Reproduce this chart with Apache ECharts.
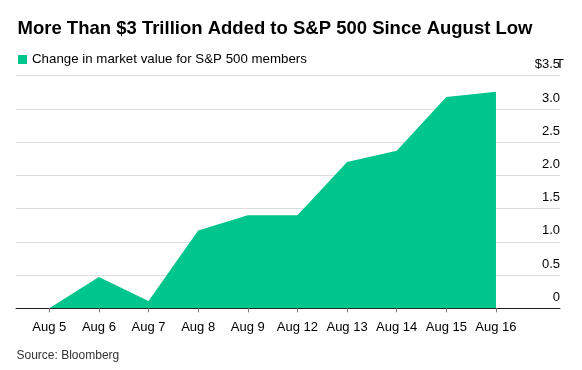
<!DOCTYPE html>
<html>
<head>
<meta charset="utf-8">
<script src="https://cdn.jsdelivr.net/npm/echarts@6/dist/echarts.min.js"></script>
<style>
html,body{margin:0;padding:0;background:#fff;}
#chart{width:582px;height:370px;}
</style>
</head>
<body>
<div id="chart"></div>
<script>
var titleText = 'More Than $3 Trillion Added to S&P 500 Since August Low';
var seriesName = 'Change in market value for S&P 500 members';
var sourceText = 'Source: Bloomberg';
var categories = ['Aug 5','Aug 6','Aug 7','Aug 8','Aug 9','Aug 12','Aug 13','Aug 14','Aug 15','Aug 16'];
var values = [0, 0.47, 0.11, 1.17, 1.40, 1.40, 2.20, 2.37, 3.18, 3.26];
var yTicks = [0, 0.5, 1.0, 1.5, 2.0, 2.5, 3.0, 3.5];

var green = '#00c58c';
var font = 'Liberation Sans, Arial, sans-serif';

var points = values.map(function (v, i) { return [i, v]; });
var idx = categories.map(function (c, i) { return i; });

var chart = echarts.init(document.getElementById('chart'), null, {renderer: 'canvas'});
chart.setOption({
  animation: false,
  backgroundColor: '#fff',
  textStyle: {fontFamily: font},
  title: [{
    text: titleText,
    left: 12.5,
    top: 14,
    textStyle: {fontFamily: font, fontSize: 18.5, fontWeight: 'bold', color: '#000'}
  }, {
    text: sourceText,
    left: 11.5,
    top: 345,
    textStyle: {fontFamily: font, fontSize: 12, fontWeight: 'normal', color: '#333'}
  }],
  legend: {
    left: 13,
    top: 48,
    icon: 'rect',
    itemWidth: 9,
    itemHeight: 9,
    data: [seriesName],
    textStyle: {fontFamily: font, fontSize: 13.3, color: '#000'}
  },
  grid: {left: 16, right: 22, top: 75.7, bottom: 61.7, outerBoundsMode: 'none'},
  xAxis: {
    type: 'value',
    min: -0.67,
    max: 10.29,
    splitLine: {show: false},
    axisLine: {show: true, lineStyle: {color: '#222', width: 1}},
    axisTick: {show: true, customValues: idx, length: 4, lineStyle: {color: '#777'}},
    axisLabel: {
      customValues: idx,
      margin: 13,
      fontFamily: font,
      fontSize: 13,
      color: '#000',
      formatter: function (v) { return categories[Math.round(v)]; }
    }
  },
  yAxis: {
    type: 'value',
    position: 'right',
    min: 0,
    max: 3.5,
    interval: 0.5,
    axisLine: {show: false},
    axisTick: {show: false},
    splitLine: {show: true, lineStyle: {color: '#dcdcdc', width: 1}},
    axisLabel: {
      inside: true,
      margin: 0,
      align: 'right',
      verticalAlign: 'bottom',
      lineHeight: 14,
      padding: [0, 0, 4, 0],
      fontFamily: font,
      fontSize: 13,
      color: '#000',
      formatter: function (v) {
        if (v === 0) return '0';
        if (Math.abs(v - 3.5) < 1e-9) return '{v|$3.5}{u|T}';
        return v.toFixed(1);
      },
      rich: {
        v: {fontFamily: font, fontSize: 13, color: '#000', lineHeight: 14},
        u: {fontFamily: font, fontSize: 13, color: '#000', lineHeight: 14, width: 0, align: 'left'}
      }
    }
  },
  series: [{
    name: seriesName,
    type: 'line',
    data: points,
    symbol: 'none',
    color: green,
    lineStyle: {width: 0, color: green},
    areaStyle: {color: green, opacity: 1}
  }]
});
</script>
</body>
</html>
